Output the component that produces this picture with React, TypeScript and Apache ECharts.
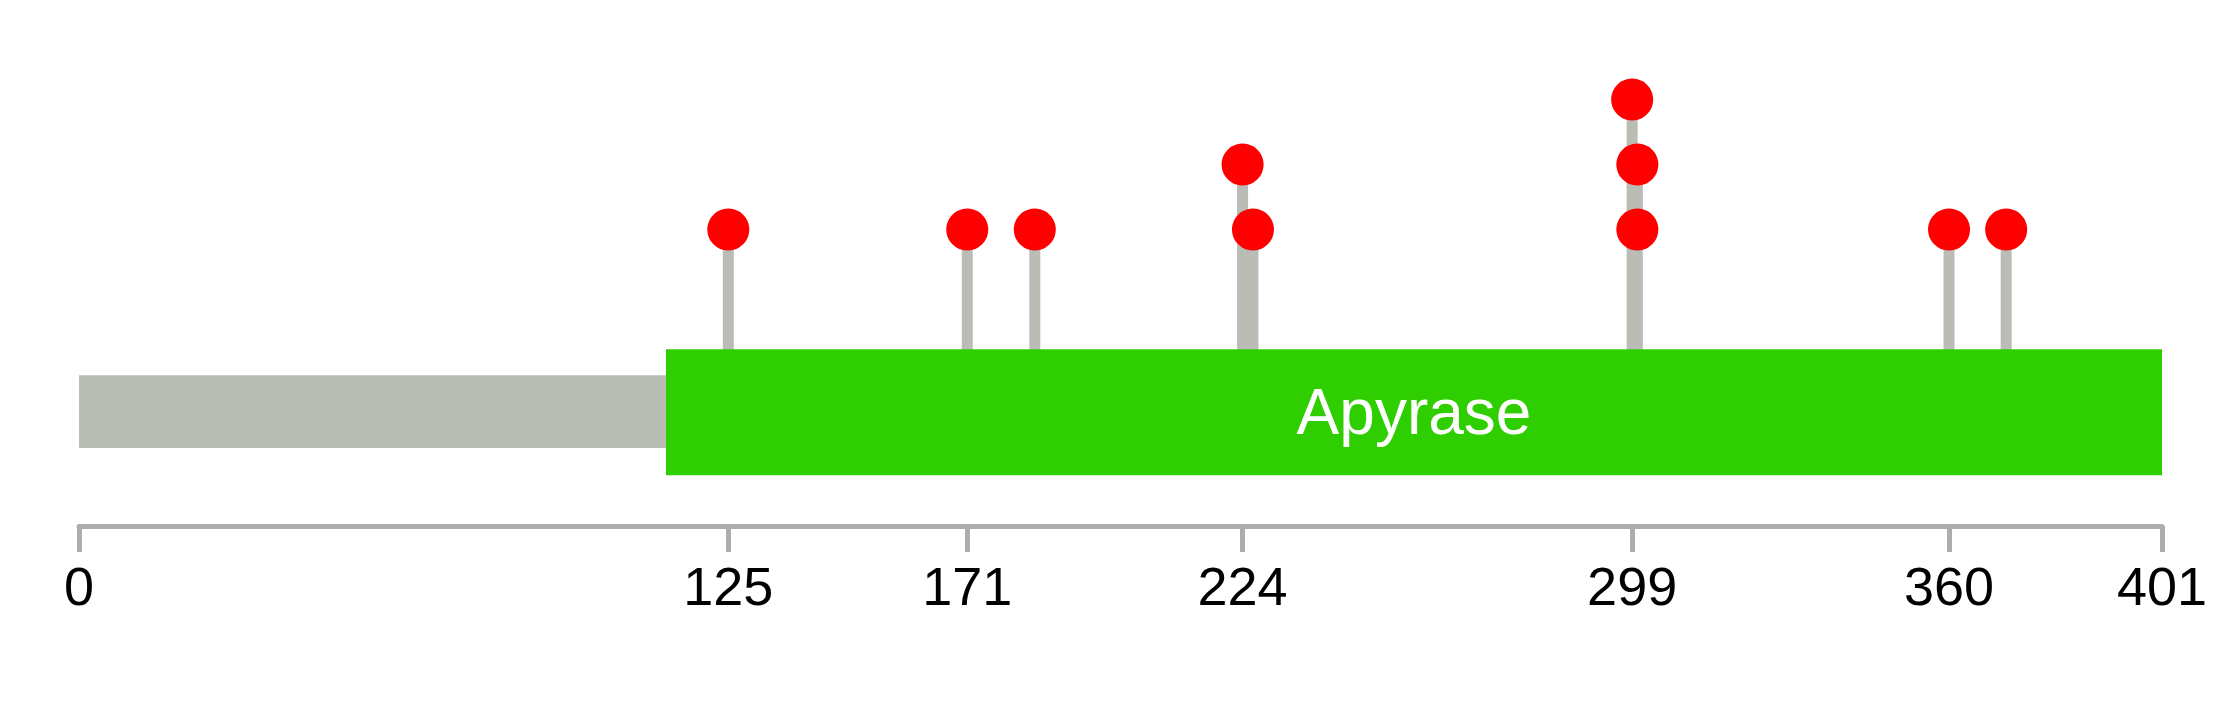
import React, { useEffect, useRef } from "react";
import * as echarts from "echarts";

// ---- data ----
const proteinLength = 401;
const domainNames = ["Apyrase"];
const domainStarts = [113];
const domainEnds = [401];
const tickValues = [0, 125, 171, 224, 299, 360, 401];
const stemPositions = [125, 171, 184, 224, 226, 299, 300, 360, 371];
const stemHeights = [1, 1, 1, 2, 1, 3, 2, 1, 1];
const circlePositions = [125, 171, 184, 224, 226, 299, 300, 300, 360, 371];
const circleLevels = [1, 1, 1, 2, 1, 3, 2, 1, 1, 1];

// ---- layout (in level units of the hidden y axis) ----
const Y_MIN = -3.56;
const Y_MAX = 4.53;
const BACKBONE_TOP = -1.24;
const BACKBONE_BOTTOM = -2.36;
const DOMAIN_TOP = -0.84;
const DOMAIN_BOTTOM = -2.78;
const STEM_BASE = -1.8;
const STEM_WIDTH = 11;

const GREY = "#BABDB6";
const GREEN = "#2ECE00";
const RED = "#FF0000";
const AXIS = "#ADADAD";
const FONT = '"Liberation Sans", Arial, Helvetica, sans-serif';

export default function App() {
  const ref = useRef<HTMLDivElement>(null);
  useEffect(() => {
    if (!ref.current) return;
    const chart = echarts.init(ref.current, null, { renderer: "svg" });
    chart.setOption({
      animation: false,
      backgroundColor: "#ffffff",
      grid: { left: 79, right: 77, top: 0, bottom: 182, containLabel: false },
      xAxis: {
        type: "value",
        min: 0,
        max: proteinLength,
        splitLine: { show: false },
        axisLine: { show: true, onZero: false, lineStyle: { color: AXIS, width: 5 } },
        axisTick: {
          show: true,
          customValues: tickValues,
          length: 26,
          lineStyle: { color: AXIS, width: 5 },
        },
        axisLabel: {
          show: true,
          customValues: tickValues,
          margin: 33,
          color: "#000000",
          fontSize: 54,
          fontFamily: FONT,
        },
      },
      yAxis: { type: "value", show: false, min: Y_MIN, max: Y_MAX },
      series: [
        {
          type: "custom",
          silent: true,
          z: 1,
          data: [[0, proteinLength]],
          renderItem: (params: any, api: any) => {
            const p0 = api.coord([api.value(0), BACKBONE_TOP]);
            const p1 = api.coord([api.value(1), BACKBONE_BOTTOM]);
            return {
              type: "rect",
              shape: { x: p0[0], y: p0[1], width: p1[0] - p0[0], height: p1[1] - p0[1] },
              style: { fill: GREY },
            };
          },
        },
        {
          type: "custom",
          silent: true,
          z: 2,
          data: stemPositions.map((p, i) => [p, stemHeights[i]]),
          renderItem: (params: any, api: any) => {
            const top = api.coord([api.value(0), api.value(1)]);
            const bot = api.coord([api.value(0), STEM_BASE]);
            return {
              type: "rect",
              shape: { x: top[0] - STEM_WIDTH / 2, y: top[1], width: STEM_WIDTH, height: bot[1] - top[1] },
              style: { fill: GREY },
            };
          },
        },
        {
          type: "custom",
          silent: true,
          z: 3,
          data: domainStarts.map((s, i) => [s, domainEnds[i]]),
          renderItem: (params: any, api: any) => {
            const p0 = api.coord([api.value(0), DOMAIN_TOP]);
            const p1 = api.coord([api.value(1), DOMAIN_BOTTOM]);
            return {
              type: "group",
              children: [
                {
                  type: "rect",
                  shape: { x: p0[0], y: p0[1], width: p1[0] - p0[0], height: p1[1] - p0[1] },
                  style: { fill: GREEN },
                },
                {
                  type: "text",
                  x: (p0[0] + p1[0]) / 2,
                  y: (p0[1] + p1[1]) / 2,
                  style: {
                    text: domainNames[params.dataIndex],
                    fill: "#ffffff",
                    font: `64px ${FONT}`,
                    align: "center",
                    verticalAlign: "middle",
                  },
                },
              ],
            };
          },
        },
        {
          type: "scatter",
          silent: true,
          z: 4,
          symbol: "circle",
          symbolSize: 42,
          itemStyle: { color: RED, opacity: 1 },
          data: circlePositions.map((p, i) => [p, circleLevels[i]]),
        },
      ],
    });
    return () => chart.dispose();
  }, []);
  return (
    <div
      ref={ref}
      style={{ position: "absolute", left: 0, top: 0, width: 2239, height: 708 }}
    />
  );
}
